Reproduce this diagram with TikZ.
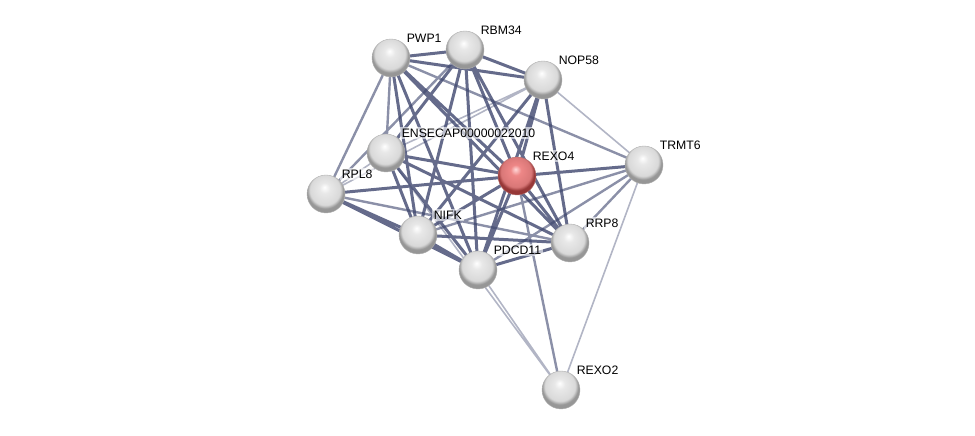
\documentclass[tikz,border=0pt]{standalone}
\usepackage{fontspec}
\setmainfont{Liberation Sans}
\definecolor{strline}{RGB}{62,70,110}
\definecolor{balllight}{RGB}{232,232,232}
\definecolor{balldark}{RGB}{150,150,150}
\definecolor{redlight}{RGB}{236,150,150}
\definecolor{reddark}{RGB}{150,55,55}
\pgfdeclareradialshading{strball}{\pgfpoint{-2bp}{9bp}}{color(0bp)=(white); color(7bp)=(balllight); color(20bp)=(gray!30); color(24bp)=(balldark); color(25bp)=(balldark); color(50bp)=(balldark)}
\pgfdeclareradialshading{strred}{\pgfpoint{-2bp}{9bp}}{color(0bp)=(red!15!white); color(7bp)=(redlight!90!red); color(20bp)=(red!45!white!85!black); color(24bp)=(reddark); color(25bp)=(reddark); color(50bp)=(reddark)}
\pgfdeclarelayer{edges}
\pgfsetlayers{edges,main}
\tikzstyle{protein} = [circle, minimum size=38bp, inner sep=0pt, shading=strball, draw=gray!60, thin]
\tikzstyle{query} = [protein, shading=strred, draw=reddark!70]
\tikzstyle{lbl} = [font=\fontsize{12.3}{14}\selectfont, inner sep=2pt, label distance=0bp, fill=white, fill opacity=0.6, text opacity=1]
\tikzstyle{strong} = [strline, line width=3bp, opacity=0.8]
\tikzstyle{medium} = [strline, line width=2.4bp, opacity=0.6]
\tikzstyle{weak} = [strline, line width=1.6bp, opacity=0.4]

\begin{document}
\begin{tikzpicture}[x=1bp, y=-1bp]
	\useasboundingbox (0,0) rectangle (975,436);
	\node[protein, label={[lbl]45:PWP1}] (pwp) at (391,58) {};
	\node[protein, label={[lbl]45:RBM34}] (rbm) at (465,50) {};
	\node[protein, label={[lbl]45:NOP58}] (nop) at (543,80) {};
	\node[protein, label={[lbl]45:ENSECAP00000022010}] (ens) at (386,153) {};
	\node[query, label={[lbl]45:REXO4}] (rexf) at (517,176) {};
	\node[protein, label={[lbl]45:TRMT6}] (trmt) at (644,165) {};
	\node[protein, label={[lbl]45:RPL8}] (rpl) at (326,194) {};
	\node[protein, label={[lbl]45:NIFK}] (nifk) at (418,235) {};
	\node[protein, label={[lbl]45:RRP8}] (rrp) at (570,243) {};
	\node[protein, label={[lbl]45:PDCD11}] (pdcd) at (478,270) {};
	\node[protein, label={[lbl]45:REXO2}] (rext) at (561,390) {};
	\begin{pgfonlayer}{edges}
		% weak links
		\draw[weak] (nop.center) -- (ens.center) (nop.center) -- (rpl.center) (nop.center) -- (trmt.center)
			(ens.center) -- (rpl.center) (ens.center) -- (rext.center) (pdcd.center) -- (rext.center)
			(trmt.center) -- (rext.center);
		% medium links
		\draw[medium] (pwp.center) -- (ens.center) (pwp.center) -- (rpl.center) (pwp.center) -- (trmt.center)
			(rbm.center) -- (rpl.center) (rpl.center) -- (rrp.center) (rexf.center) -- (rext.center)
			(nifk.center) -- (trmt.center) (pdcd.center) -- (trmt.center) (rrp.center) -- (trmt.center);
		% strong links
		\draw[strong] (pwp.center) -- (rbm.center) (pwp.center) -- (nop.center) (pwp.center) -- (rexf.center)
			(pwp.center) -- (nifk.center) (pwp.center) -- (pdcd.center) (pwp.center) -- (rrp.center)
			(rbm.center) -- (nop.center) (rbm.center) -- (ens.center) (rbm.center) -- (rexf.center)
			(rbm.center) -- (nifk.center) (rbm.center) -- (pdcd.center) (rbm.center) -- (rrp.center)
			(nop.center) -- (rexf.center) (nop.center) -- (nifk.center) (nop.center) -- (pdcd.center)
			(nop.center) -- (rrp.center) (ens.center) -- (rexf.center) (ens.center) -- (nifk.center)
			(ens.center) -- (pdcd.center) (ens.center) -- (rrp.center) (rexf.center) -- (rpl.center)
			(rexf.center) -- (nifk.center) (rexf.center) -- (pdcd.center) (rexf.center) -- (rrp.center)
			(rexf.center) -- (trmt.center) (rpl.center) -- (nifk.center) (rpl.center) -- (pdcd.center)
			(nifk.center) -- (pdcd.center) (nifk.center) -- (rrp.center) (pdcd.center) -- (rrp.center);
	\end{pgfonlayer}
\end{tikzpicture}
\end{document}
